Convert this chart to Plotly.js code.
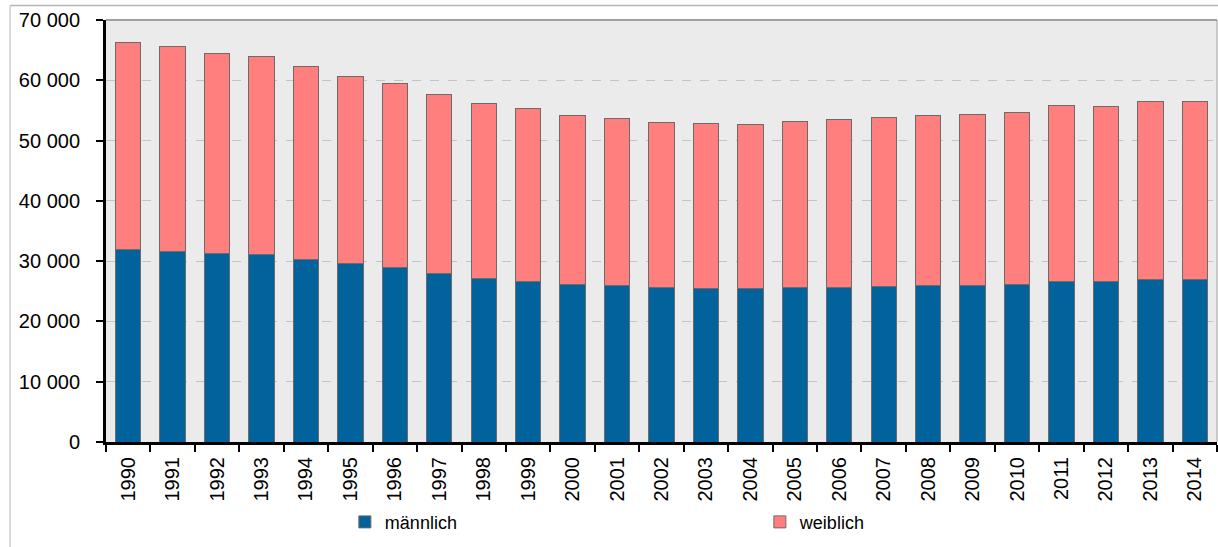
<!DOCTYPE html>
<html>
<head>
<meta charset="utf-8">
<script src="https://cdn.plot.ly/plotly-3.0.1.min.js"></script>
<style>html,body{margin:0;padding:0;background:#fff;}#chart{width:1218px;height:547px;}</style>
</head>
<body>
<div id="chart"></div>
<script>
const years = ['1990','1991','1992','1993','1994','1995','1996','1997','1998','1999','2000','2001','2002','2003','2004','2005','2006','2007','2008','2009','2010','2011','2012','2013','2014'];
const maennlich = [32000,31600,31300,31100,30200,29600,29000,28000,27100,26700,26150,25900,25550,25500,25450,25650,25700,25800,25900,26000,26050,26600,26600,26900,27000];
const weiblich = [34300,34000,33200,32800,32100,31100,30500,29700,29100,28600,28050,27700,27450,27350,27250,27550,27750,28100,28200,28300,28550,29300,29100,29500,29500];
const yTickVals = [0,10000,20000,30000,40000,50000,60000,70000];
const yTickText = ['0','10\u00a0000','20\u00a0000','30\u00a0000','40\u00a0000','50\u00a0000','60\u00a0000','70\u00a0000'];

const fam = 'Liberation Sans, Arial, sans-serif';

const traces = [
  {type: 'bar', name: 'männlich', x: years, y: maennlich,
   marker: {color: '#02629B', line: {color: '#6b6b6b', width: 1}}},
  {type: 'bar', name: 'weiblich', x: years, y: weiblich,
   marker: {color: '#FF7F7F', line: {color: '#6b6b6b', width: 1}}}
];

const layout = {
  width: 1218, height: 547,
  margin: {l: 106, r: 1, t: 20, b: 105, autoexpand: false},
  barmode: 'stack', bargap: 0.43,
  paper_bgcolor: '#fff', plot_bgcolor: '#ebebeb',
  font: {family: fam, size: 18, color: '#000'},
  showlegend: true,
  legend: {orientation: 'h', x: 0.215, y: -0.19, xanchor: 'left', yanchor: 'middle',
           entrywidth: 370, entrywidthmode: 'pixels', font: {size: 18, family: fam},
           traceorder: 'normal', itemwidth: 30, bgcolor: 'rgba(0,0,0,0)'},
  xaxis: {type: 'category', tickson: 'boundaries', ticks: 'outside', ticklen: 7, tickwidth: 2,
          tickcolor: '#000', tickangle: -90, showline: true, linecolor: '#000', linewidth: 3,
          showgrid: false, tickfont: {size: 20, family: fam}, ticklabelstandoff: 4, fixedrange: true},
  yaxis: {range: [0, 70000], tickvals: yTickVals, ticktext: yTickText, ticks: 'outside',
          ticklen: 7, tickwidth: 2, tickcolor: '#000', showline: true, linecolor: '#000', linewidth: 3,
          showgrid: true, gridcolor: '#c4c4c4', griddash: 'dash', gridwidth: 1, zeroline: false,
          ticklabelstandoff: 12, tickfont: {size: 20, family: fam}, fixedrange: true},
  shapes: [
    {type: 'line', xref: 'paper', yref: 'paper', x0: 0, x1: 1, y0: 1, y1: 1, line: {color: '#a0a0a0', width: 2}},
    {type: 'line', xref: 'paper', yref: 'paper', x0: 1, x1: 1, y0: 0, y1: 1, line: {color: '#a0a0a0', width: 1}},
    {type: 'line', xref: 'paper', yref: 'paper', x0: -0.0864, x1: 1.01, y0: 1.0344, y1: 1.0344, line: {color: '#b4b4b4', width: 1.5}},
    {type: 'line', xref: 'paper', yref: 'paper', x0: -0.0864, x1: -0.0864, y0: -0.3, y1: 1.0344, line: {color: '#cfcfcf', width: 1.5}}
  ]
};

Plotly.newPlot('chart', traces, layout, {displayModeBar: false, staticPlot: true});
</script>
</body>
</html>
